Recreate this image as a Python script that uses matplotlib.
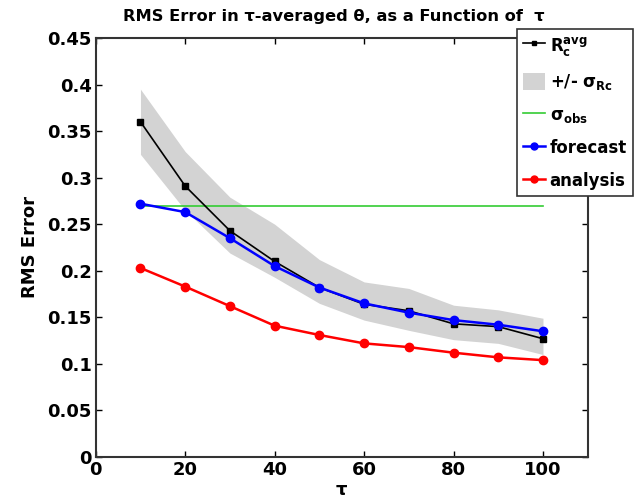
import matplotlib
matplotlib.use("Agg")
import matplotlib.pyplot as plt
from matplotlib.patches import Patch

tau = [10, 20, 30, 40, 50, 60, 70, 80, 90, 100]
rc_avg = [0.360, 0.291, 0.243, 0.210, 0.182, 0.164, 0.157, 0.143, 0.140, 0.127]
rc_upper = [0.395, 0.328, 0.279, 0.250, 0.212, 0.188, 0.181, 0.163, 0.158, 0.149]
rc_lower = [0.325, 0.265, 0.219, 0.193, 0.165, 0.147, 0.136, 0.126, 0.122, 0.110]
forecast = [0.272, 0.263, 0.235, 0.205, 0.182, 0.165, 0.155, 0.147, 0.142, 0.135]
analysis = [0.203, 0.183, 0.162, 0.141, 0.131, 0.122, 0.118, 0.112, 0.107, 0.104]
sigma_obs = 0.27

fig = plt.figure(figsize=(6.34, 5.03), dpi=100)
ax = fig.add_axes([0.151, 0.0915, 0.776, 0.833])

ax.fill_between(tau, rc_lower, rc_upper, color='#d3d3d3', lw=0)
ax.plot([tau[0], tau[-1]], [sigma_obs, sigma_obs], color='#33cc33', lw=1.2)
ax.plot(tau, rc_avg, color='black', lw=1.2, marker='s', ms=4)
ax.plot(tau, forecast, color='blue', lw=1.8, marker='o', ms=6)
ax.plot(tau, analysis, color='red', lw=1.8, marker='o', ms=6)

ax.set_xlim(0, 110)
ax.set_ylim(0, 0.45)
ax.set_xticks([0, 20, 40, 60, 80, 100])
ax.set_yticks([0, 0.05, 0.1, 0.15, 0.2, 0.25, 0.3, 0.35, 0.4, 0.45])
ax.set_yticklabels(['0', '0.05', '0.1', '0.15', '0.2', '0.25', '0.3', '0.35', '0.4', '0.45'])
ax.tick_params(direction='in', top=True, right=True, length=4, width=1,
               labelsize=13, pad=3)
for lab in ax.get_xticklabels() + ax.get_yticklabels():
    lab.set_fontweight('bold')
for s in ax.spines.values():
    s.set_linewidth(1.5)
    s.set_color('#333333')

ax.set_xlabel('τ', fontsize=13, fontweight='bold', labelpad=1)
ax.set_ylabel('RMS Error', fontsize=13, fontweight='bold', labelpad=6)
fig.text(0.527, 0.968, 'RMS Error in τ-averaged θ, as a Function of  τ',
         ha='center', va='center', fontsize=11.7, fontweight='bold')

handles = [
    plt.Line2D([], [], color='black', lw=1.2, marker='s', ms=3),
    Patch(facecolor='#d3d3d3', edgecolor='none'),
    plt.Line2D([], [], color='#33cc33', lw=1.2),
    plt.Line2D([], [], color='blue', lw=1.8, marker='o', ms=5),
    plt.Line2D([], [], color='red', lw=1.8, marker='o', ms=5),
]
labels = [r'$\mathbf{R_c^{avg}}$', r'+/- $\mathbf{\sigma_{Rc}}$', r'$\mathbf{\sigma_{obs}}$',
          'forecast', 'analysis']
leg = fig.legend(handles, labels, loc='upper right', bbox_to_anchor=(0.998, 0.943),
                 prop={'weight': 'bold', 'size': 12}, handlelength=1.3,
                 handleheight=1.2, handletextpad=0.3, borderpad=0.35,
                 labelspacing=0.85, fancybox=False, framealpha=1, borderaxespad=0)
leg.get_frame().set_edgecolor('#333333')
leg.get_frame().set_linewidth(1.2)

fig.savefig('out.png', dpi=100)
